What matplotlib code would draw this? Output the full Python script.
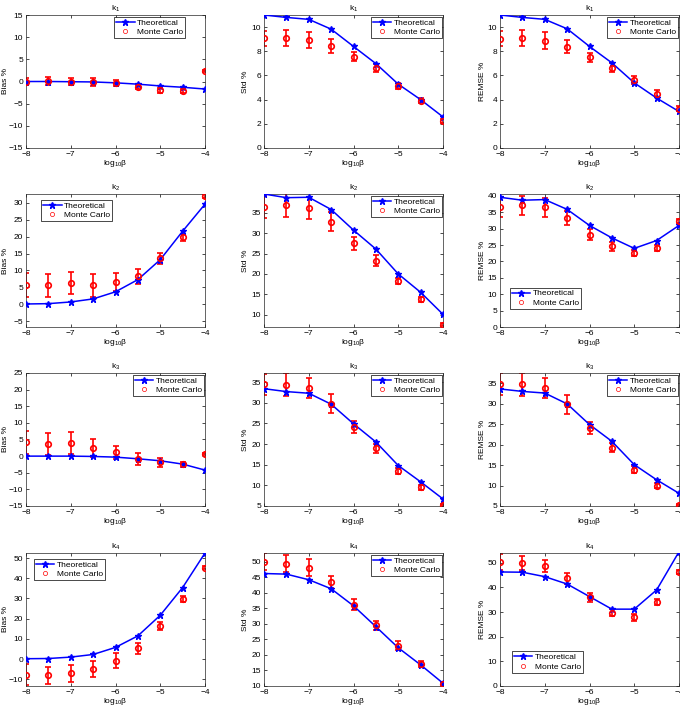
import numpy as np
import matplotlib
matplotlib.use("Agg")
import matplotlib.pyplot as plt
from matplotlib.ticker import MultipleLocator

# log10(beta) sample points
log_beta = [-8, -7.5, -7, -6.5, -6, -5.5, -5, -4.5, -4]

# Bias % (k1..k4)
bias_theo = [
    [0.0, 0.0, -0.05, -0.1, -0.3, -0.6, -1.0, -1.3, -1.7],
    [0.1, 0.2, 0.7, 1.6, 3.7, 7.3, 13.2, 21.6, 29.6],
    [0.0, 0.0, 0.0, -0.1, -0.3, -0.8, -1.4, -2.4, -4.2],
    [0.2, 0.3, 1.0, 2.3, 5.8, 11.5, 21.7, 35.4, 52.5],
]
bias_mc = [
    [0.0, 0.05, 0.0, -0.2, -0.3, -1.2, -2.0, -2.2, 2.4],
    [5.8, 5.7, 6.3, 5.7, 6.6, 8.3, 13.6, 19.8, 31.9],
    [4.2, 3.7, 4.0, 2.55, 1.1, -0.9, -1.9, -2.45, 0.6],
    [-7.7, -8.1, -7.1, -4.9, -0.8, 5.3, 16.6, 29.6, 45.2],
]
bias_err = [
    [0.9, 0.9, 0.9, 0.9, 0.7, 0.5, 0.5, 0.5, 0.3],
    [3.5, 3.4, 3.3, 3.4, 2.7, 2.2, 1.7, 1.1, 0.6],
    [3.5, 3.4, 3.4, 2.7, 1.9, 1.9, 1.3, 0.8, 0.4],
    [5.1, 4.1, 4.2, 3.8, 3.8, 2.9, 2.0, 1.4, 0.7],
]

# Std % (k1..k4)
std_theo = [
    [11.0, 10.8, 10.64, 9.83, 8.4, 6.98, 5.28, 4.0, 2.57],
    [39.6, 38.7, 38.8, 35.8, 30.75, 26.1, 20.0, 15.5, 10.1],
    [33.4, 32.7, 32.3, 29.65, 24.9, 20.5, 14.8, 10.85, 6.7],
    [46.2, 46.0, 44.2, 41.3, 35.8, 29.1, 22.3, 16.8, 10.9],
]
std_mc = [
    [9.08, 9.1, 8.94, 8.44, 7.54, 6.62, 5.14, 3.91, 2.23],
    [36.4, 36.9, 36.1, 32.8, 27.5, 23.3, 18.25, 13.75, 7.6],
    [34.5, 34.4, 33.6, 29.7, 24.1, 19.0, 13.5, 9.5, 5.2],
    [50.0, 49.4, 48.1, 43.5, 36.2, 29.5, 23.0, 17.1, 10.8],
]
std_err = [
    [0.63, 0.65, 0.68, 0.55, 0.38, 0.33, 0.25, 0.22, 0.17],
    [2.7, 2.9, 2.65, 2.3, 1.6, 1.25, 0.75, 0.7, 0.35],
    [2.55, 2.7, 2.4, 2.3, 1.4, 1.1, 0.75, 0.6, 0.3],
    [2.8, 2.75, 2.85, 2.0, 1.8, 1.5, 1.35, 0.9, 0.5],
]

# REMSE % (k1..k4)
remse_theo = [
    [11.0, 10.8, 10.64, 9.86, 8.4, 7.04, 5.39, 4.13, 3.02],
    [39.6, 38.7, 38.9, 35.9, 31.0, 27.2, 24.0, 26.4, 31.0],
    [33.6, 33.0, 32.6, 29.95, 24.9, 20.8, 15.1, 11.4, 8.1],
    [46.3, 46.2, 44.4, 41.4, 36.3, 31.2, 31.2, 39.0, 54.5],
]
remse_mc = [
    [9.05, 9.08, 8.88, 8.38, 7.51, 6.65, 5.6, 4.5, 3.24],
    [36.7, 37.1, 36.5, 33.2, 28.2, 24.7, 22.6, 24.0, 32.4],
    [34.8, 34.7, 33.9, 29.9, 24.1, 19.2, 13.9, 9.9, 5.3],
    [50.5, 50.0, 48.6, 43.7, 36.0, 29.7, 27.9, 34.1, 46.4],
]
remse_err = [
    [0.63, 0.66, 0.68, 0.55, 0.38, 0.35, 0.33, 0.28, 0.2],
    [3.0, 3.0, 3.0, 2.2, 1.7, 1.4, 0.9, 0.9, 0.7],
    [2.6, 2.7, 2.5, 2.3, 1.4, 1.1, 0.8, 0.6, 0.3],
    [3.2, 2.9, 2.5, 2.3, 1.9, 1.4, 1.5, 1.1, 0.75],
]

titles = ["k$_1$", "k$_2$", "k$_3$", "k$_4$"]
ylabels = ["Bias %", "Std %", "REMSE %"]

FS = 6.0
plt.rcParams["font.family"] = ["Liberation Sans", "DejaVu Sans"]
plt.rcParams["mathtext.fontset"] = "custom"
plt.rcParams["mathtext.rm"] = "Liberation Sans"
plt.rcParams["mathtext.it"] = "Liberation Sans"
plt.rcParams["mathtext.default"] = "rm"
plt.rcParams["font.size"] = FS

W, H = 680, 707
fig = plt.figure(figsize=(W / 100, H / 100), dpi=100)

col_left = [26, 264, 500]
col_w = 179
row_top = [15, 194, 373, 553]
row_h = 133
ylabel_x = [-0.095, -0.085, -0.078]

# per panel layout: ylim, tick step, legend placement
ylims = [
    [(-15, 15), (0, 11), (0, 11)],
    [(-6.7, 32.6), (7, 39.6), (0, 40.6)],
    [(-15, 25), (5, 37.2), (5, 37.5)],
    [(-13.3, 52.5), (10, 52.8), (0, 54)],
]
steps = [
    [5, 2, 2],
    [5, 5, 5],
    [5, 5, 5],
    [10, 5, 10],
]
legend_pos = [
    [("upper right", (0.89, 0.985)), ("upper right", (0.995, 0.985)), ("upper right", (0.995, 0.985))],
    [("upper left", (0.085, 0.955)), ("upper right", (0.995, 0.985)), ("lower left", (0.055, 0.135))],
    [("upper right", (0.995, 0.985)), ("upper right", (0.995, 0.985)), ("upper right", (0.995, 0.985))],
    [("upper left", (0.045, 0.955)), ("upper right", (0.995, 0.985)), ("lower left", (0.065, 0.1))],
]

groups = [
    (bias_theo, bias_mc, bias_err),
    (std_theo, std_mc, std_err),
    (remse_theo, remse_mc, remse_err),
]

for r in range(4):
    for c in range(3):
        left = col_left[c] / W
        bottom = 1 - (row_top[r] + row_h) / H
        ax = fig.add_axes([left, bottom, col_w / W, row_h / H])
        theo, mc, err = groups[c]

        ax.errorbar(log_beta, mc[r], yerr=err[r], fmt="none", ecolor="red",
                    elinewidth=1.2, capsize=2.5, capthick=1.2, zorder=2)
        ax.plot(log_beta, theo[r], "-*", color="#0000ff", lw=1.1, ms=5,
                label="Theoretical", zorder=3)
        ax.plot(log_beta, mc[r], "o", color="red", mfc="none", mew=1.2, ms=4,
                zorder=4)
        # legend handle for MC (thin small circle like MATLAB)
        ax.plot([], [], "o", color="red", mfc="none", mew=0.5, ms=3,
                label="Monte Carlo")

        ax.set_xlim(-8, -4)
        ax.set_ylim(*ylims[r][c])
        ax.xaxis.set_major_locator(MultipleLocator(1))
        ax.yaxis.set_major_locator(MultipleLocator(steps[r][c]))
        ax.tick_params(direction="in", top=True, right=True, length=2.5,
                       width=0.5, pad=2, labelsize=FS)
        for s in ax.spines.values():
            s.set_linewidth(0.5)
            s.set_color("#262626")

        ax.set_title(titles[r], fontsize=FS, pad=3)
        ax.set_xlabel("log$_{10}$β", labelpad=0.5)
        ax.set_ylabel(ylabels[c])
        ax.yaxis.set_label_coords(ylabel_x[c], 0.5)

        loc, anchor = legend_pos[r][c]
        leg = ax.legend(loc=loc, bbox_to_anchor=anchor, fontsize=FS,
                        fancybox=False, framealpha=1, edgecolor="black",
                        borderpad=0.25, handlelength=2.2, handletextpad=0.3,
                        labelspacing=0.2, borderaxespad=0.0)
        leg.get_frame().set_linewidth(0.5)

fig.savefig("out.png", dpi=100)
